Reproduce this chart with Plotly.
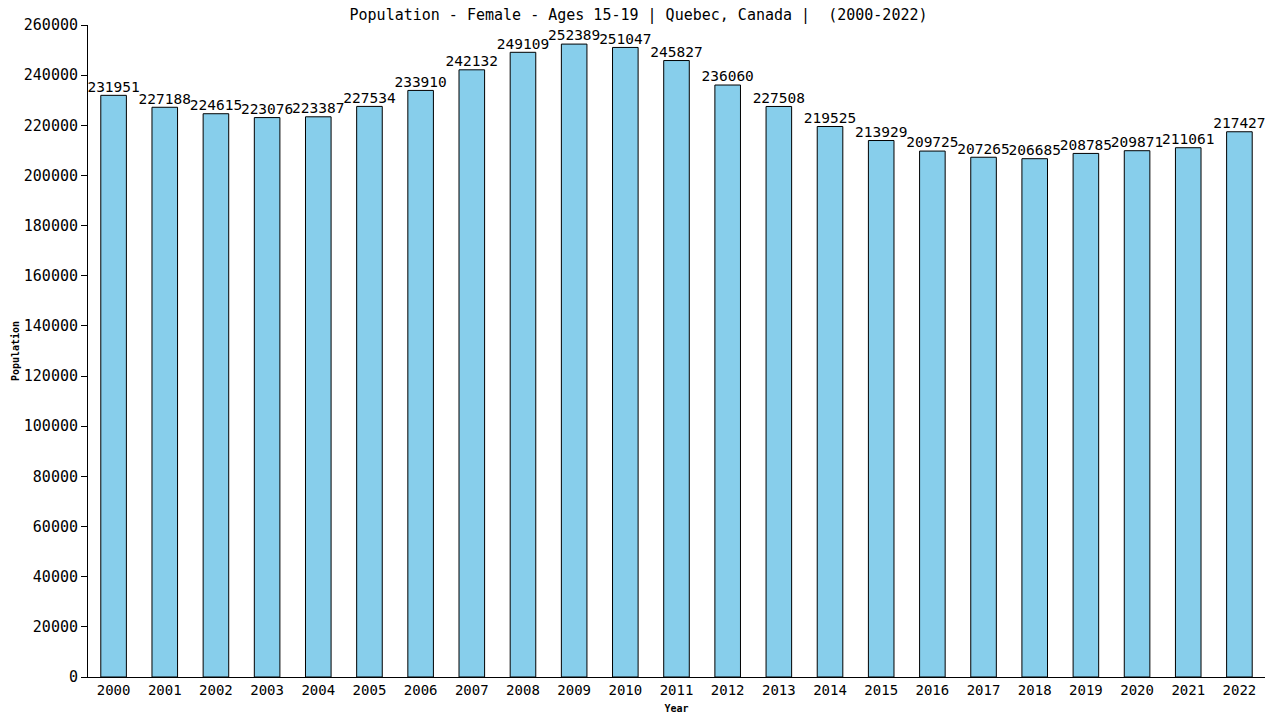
import plotly.graph_objects as go

years = [str(y) for y in range(2000, 2023)]
population = [231951, 227188, 224615, 223076, 223387, 227534, 233910, 242132, 249109, 252389,
              251047, 245827, 236060, 227508, 219525, 213929, 209725, 207265, 206685, 208785,
              209871, 211061, 217427]
y_ticks = list(range(0, 260001, 20000))

font_main = "DejaVu Sans Mono"

fig = go.Figure()
fig.add_trace(go.Bar(
    x=years, y=population,
    width=0.5,
    marker=dict(color="#87CEEB", line=dict(color="black", width=1)),
))
# value labels above the bars
fig.add_trace(go.Scatter(
    x=years, y=population,
    mode="text",
    text=[str(v) for v in population],
    textposition="top center",
    cliponaxis=False,
    textfont=dict(family=font_main, size=14.5, color="black"),
))

fig.update_layout(
    width=1280, height=720,
    margin=dict(l=80, r=23, t=17, b=51),
    plot_bgcolor="white", paper_bgcolor="white",
    showlegend=False,
    title=dict(text="Population - Female - Ages 15-19 | Quebec, Canada |  (2000-2022)",
               x=0.4926, xanchor="center", xref="container", y=0.998, yanchor="top", yref="container",
               font=dict(family=font_main, size=15, color="black"), automargin=False),
)
fig.update_xaxes(
    type="category", range=[-0.5, 22.5], automargin=False,
    showline=True, linecolor="black", linewidth=1,
    ticks="", tickfont=dict(family=font_main, size=14, color="black"),
    title=dict(text="<b>Year</b>", font=dict(family=font_main, size=10, color="black"), standoff=8),
)
fig.update_yaxes(
    range=[0, 260000], tickvals=y_ticks, ticktext=[str(v) for v in y_ticks], automargin=False,
    showline=True, linecolor="black", linewidth=1,
    ticks="outside", ticklen=6, tickcolor="black",
    showgrid=False, zeroline=False,
    tickfont=dict(family=font_main, size=15, color="black"),
    title=dict(text="<b>Population</b>", font=dict(family=font_main, size=10, color="black"), standoff=2),
)

fig.write_html("out.html")
